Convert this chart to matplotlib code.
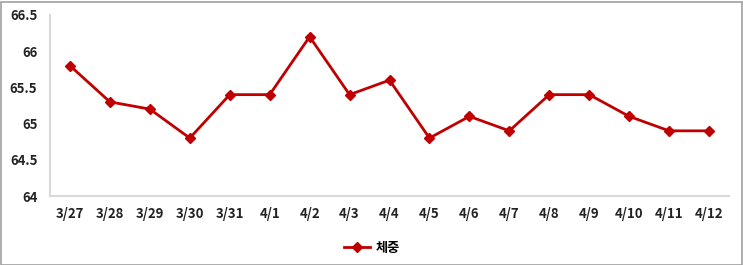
import matplotlib
matplotlib.use("Agg")
import matplotlib.pyplot as plt
from matplotlib.patches import Rectangle

plt.rcParams['font.family'] = ['Noto Sans CJK KR', 'DejaVu Sans']

dates = ["3/27", "3/28", "3/29", "3/30", "3/31", "4/1", "4/2", "4/3", "4/4",
         "4/5", "4/6", "4/7", "4/8", "4/9", "4/10", "4/11", "4/12"]
weight = [65.8, 65.3, 65.2, 64.8, 65.4, 65.4, 66.2, 65.4, 65.6,
          64.8, 65.1, 64.9, 65.4, 65.4, 65.1, 64.9, 64.9]
yticks = [64, 64.5, 65, 65.5, 66, 66.5]
ytick_labels = ["64", "64.5", "65", "65.5", "66", "66.5"]
series_name = "체중"

W, H = 743, 265
fig = plt.figure(figsize=(W / 100, H / 100), dpi=100)
ax = fig.add_axes([50 / W, 1 - 196 / H, (729 - 50) / W, (196 - 15) / H])

x = list(range(len(dates)))
ax.plot(x, weight, color='#C00000', linewidth=2, marker='D', markersize=5,
        label=series_name)

ax.set_xlim(-0.5, len(dates) - 0.5)
ax.set_ylim(64, 66.5)
ax.set_yticks(yticks)
ax.set_yticklabels(ytick_labels)
ax.set_xticks(x)
ax.set_xticklabels(dates)
ax.tick_params(length=0, labelsize=9.5, pad=8)
ax.tick_params(axis='y', pad=9)
for lbl in ax.get_xticklabels() + ax.get_yticklabels():
    lbl.set_fontweight('bold')
    lbl.set_color('#222222')

for s in ['top', 'right']:
    ax.spines[s].set_visible(False)
for s in ['left', 'bottom']:
    ax.spines[s].set_color('#d9d9d9')
    ax.spines[s].set_linewidth(1.5)

leg = fig.legend(loc='center', bbox_to_anchor=(372 / W, 1 - 248 / H), frameon=False,
                 prop={'size': 9.5, 'weight': 'bold'}, handlelength=2.0,
                 handletextpad=0.4)

fig.patches.append(Rectangle((0.5 / W, 0.5 / H), 1 - 2 / W, 1 - 2 / H,
                             transform=fig.transFigure, fill=False,
                             edgecolor='#a0a0a0', linewidth=1.2))

fig.savefig("out.png", dpi=100)
